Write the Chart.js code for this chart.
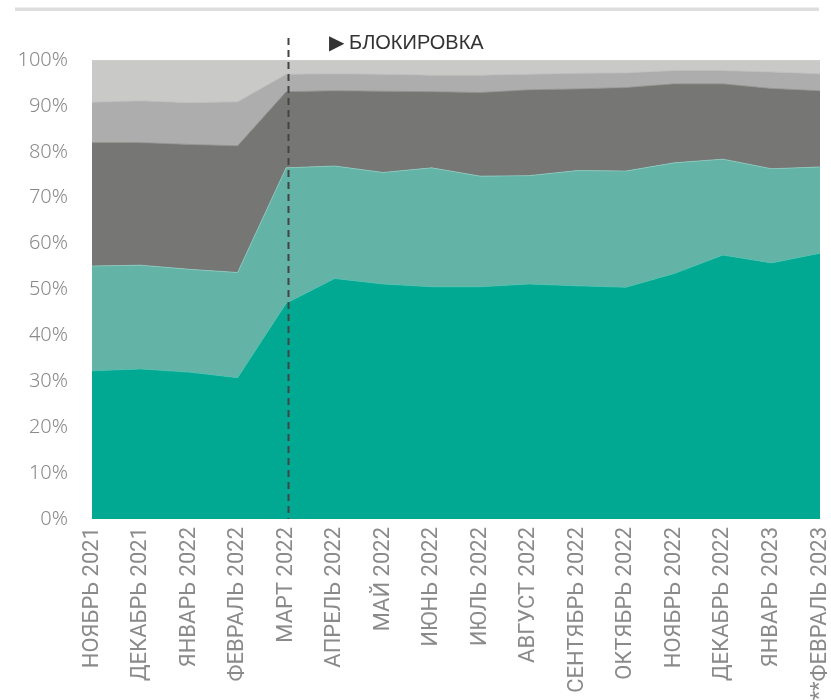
<!DOCTYPE html>
<html>
<head>
<meta charset="utf-8">
<script src="https://cdn.jsdelivr.net/npm/chart.js@4.4.1/dist/chart.umd.min.js"></script>
<style>
  html, body { margin: 0; padding: 0; background: #ffffff; }
  #wrap { width: 831px; height: 700px; position: relative; }
</style>
</head>
<body>
<div id="wrap"><canvas id="c" width="831" height="700"></canvas></div>
<script>
const categories = ["НОЯБРЬ 2021","ДЕКАБРЬ 2021","ЯНВАРЬ 2022","ФЕВРАЛЬ 2022","МАРТ 2022","АПРЕЛЬ 2022","МАЙ 2022","ИЮНЬ 2022","ИЮЛЬ 2022","АВГУСТ 2022","СЕНТЯБРЬ 2022","ОКТЯБРЬ 2022","НОЯБРЬ 2022","ДЕКАБРЬ 2022","ЯНВАРЬ 2023","**ФЕВРАЛЬ 2023"];
const series1 = [32.3,32.7,32.0,30.8,47.0,52.4,51.2,50.6,50.6,51.2,50.8,50.5,53.5,57.5,55.8,57.9];
const series2 = [22.8,22.6,22.4,22.9,29.5,24.5,24.3,25.9,24.1,23.6,25.1,25.3,24.1,20.9,20.5,18.8];
const series3 = [26.9,26.7,27.2,27.6,16.6,16.4,17.7,16.6,18.2,18.7,17.8,18.2,17.2,16.4,17.5,16.6];
const series4 = [8.8,9.1,9.1,9.6,3.8,3.7,3.7,3.6,3.8,3.4,3.4,3.2,2.9,2.9,3.6,3.7];
const series5 = [9.2,8.9,9.3,9.1,3.1,3.0,3.1,3.3,3.3,3.1,2.9,2.8,2.3,2.3,2.6,3.0];
const yTicks = [0,10,20,30,40,50,60,70,80,90,100];
const markerCategory = "МАРТ 2022";
const markerLabel = "▶ БЛОКИРОВКА";

const fills = ["#02a992","#63b3a6","#767674","#adadad","#c9c9c8"];
const edges = ["#4fc0ae","#8cc9bf","#8e8e8c","#bdbdbd","#d8d8d7"];
const allSeries = [series1, series2, series3, series4, series5];

const deco = {
  id: 'deco',
  afterDatasetsDraw(chart) {
    const ctx = chart.ctx;
    const x = chart.scales.x;
    const y = chart.scales.y;
    const px = Math.round(x.getPixelForValue(categories.indexOf(markerCategory))) + 2.5;
    ctx.save();
    ctx.strokeStyle = '#444444';
    ctx.lineWidth = 2;
    ctx.setLineDash([7, 5]);
    ctx.beginPath();
    ctx.moveTo(px, 38);
    ctx.lineTo(px, y.bottom);
    ctx.stroke();
    ctx.setLineDash([]);
    ctx.fillStyle = '#333333';
    ctx.font = '20px "Liberation Sans", Arial, sans-serif';
    ctx.textBaseline = 'middle';
    ctx.textAlign = 'left';
    ctx.fillText(markerLabel, px + 40, 43);
    // top decorative rule
    ctx.fillStyle = '#dedede';
    ctx.fillRect(15, 7.5, 804, 3.5);
    ctx.restore();
  }
};

new Chart(document.getElementById('c'), {
  type: 'line',
  data: {
    labels: categories,
    datasets: allSeries.map((d, i) => ({
      data: d,
      backgroundColor: fills[i],
      borderColor: edges[i],
      borderWidth: 0.8,
      fill: i === 0 ? 'origin' : '-1',
      pointRadius: 0,
      tension: 0
    }))
  },
  options: {
    responsive: false,
    animation: false,
    devicePixelRatio: 1,
    layout: { padding: { top: 60, right: 11, left: 0, bottom: 0 } },
    plugins: { legend: { display: false }, tooltip: { enabled: false } },
    scales: {
      x: {
        offset: false,
        grid: { display: false, drawTicks: false },
        border: { display: false },
        ticks: {
          autoSkip: false, maxRotation: 90, minRotation: 90, padding: 8,
          color: '#8a8a8a',
          font: { family: '"Liberation Sans Narrow", "Roboto", sans-serif', size: 22 }
        },
        afterFit(s) { s.height = 181; s.paddingLeft = 0; s.paddingRight = 0; }
      },
      y: {
        stacked: true,
        min: 0, max: 100,
        afterBuildTicks(s) { s.ticks = yTicks.map(v => ({ value: v })); },
        grid: { display: false, drawTicks: false },
        border: { display: false },
        ticks: {
          padding: 24,
          color: '#8a8a8a',
          font: { family: '"Noto Sans", sans-serif', size: 20, weight: '300' },
          callback: v => v + '%'
        },
        afterFit(s) { s.width = 92; s.paddingTop = 0; s.paddingBottom = 0; }
      }
    }
  },
  plugins: [deco]
});
</script>
</body>
</html>
